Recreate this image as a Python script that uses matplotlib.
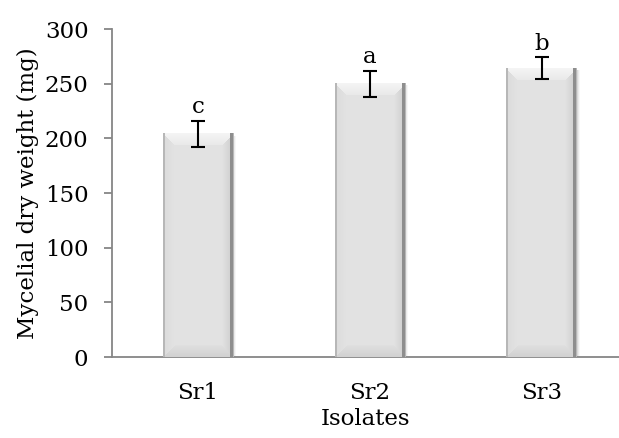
import numpy as np
import matplotlib
matplotlib.use("Agg")
import matplotlib.pyplot as plt

# Data
isolates = ["Sr1", "Sr2", "Sr3"]
dry_weight = [204, 250, 264]
errors = [12, 12, 10]
letters = ["c", "a", "b"]

plt.rcParams['font.family'] = ['DejaVu Serif']
FS = 16.5

W, H, DPI = 619, 438, 100
fig = plt.figure(figsize=(W / DPI, H / DPI), dpi=DPI)
ax = fig.add_axes([112 / W, (H - 357) / H, (W - 112) / W, (357 - 29) / H])

x = np.arange(len(isolates))
bar_w = 0.41
ax.set_xlim(-0.5, 2.45)
ax.set_ylim(0, 300)

bars = ax.bar(x, dry_weight, width=bar_w, color='#e3e3e3', zorder=2)


def bevel_image(wpx, hpx, b=12):
    """Build an RGB image of a bevelled bar face."""
    xx, yy = np.meshgrid(np.arange(wpx), np.arange(hpx))
    dl = xx.astype(float)
    dr = (wpx - 1 - xx).astype(float)
    dt = yy.astype(float)
    db = (hpx - 1 - yy).astype(float)
    img = np.full((hpx, wpx), 0.89)
    dmin = np.minimum(np.minimum(dl, dr), np.minimum(dt, db))
    t = np.clip(dmin / b, 0, 1)
    top = (dt == dmin) & (dt < b)
    left = (dl == dmin) & (dl < b) & ~top
    right = (dr == dmin) & (dr < b) & ~top
    bottom = (db == dmin) & (db < b) & ~left & ~right
    img[top] = 0.96 - 0.05 * t[top]
    img[left] = 0.86 + 0.03 * t[left]
    img[right] = 0.80 + 0.09 * t[right]
    img[bottom] = 0.82 + 0.06 * t[bottom]
    # dark side edge on the right, thin border on the left
    img[:, wpx - 4:wpx - 1] = 0.56
    img[:, wpx - 1] = 0.72
    img[:, 0:2] = np.minimum(img[:, 0:2], 0.72)
    return np.dstack([img, img, img])


fig.canvas.draw()
for rect in bars:
    x0, y0 = rect.get_x(), rect.get_y()
    x1, y1 = x0 + rect.get_width(), y0 + rect.get_height()
    p0 = ax.transData.transform((x0, y0))
    p1 = ax.transData.transform((x1, y1))
    wpx = int(round(p1[0] - p0[0]))
    hpx = int(round(p1[1] - p0[1]))
    # soft drop shadow
    for k, a in enumerate([0.08, 0.05, 0.03]):
        dx = (k + 1) * 1.0 / (p1[0] - p0[0]) * (x1 - x0)
        ax.add_patch(plt.Rectangle((x0 + dx, y0), x1 - x0, y1 - y0 - 1.5,
                                   color='black', alpha=a, lw=0, zorder=1))
    ax.imshow(bevel_image(wpx, hpx), extent=(x0, x1, y0, y1), aspect='auto',
              interpolation='nearest', zorder=3)

ax.set_xlim(-0.5, 2.45)
ax.set_ylim(0, 300)

ax.errorbar(x, dry_weight, yerr=errors, fmt='none', ecolor='black',
            elinewidth=1.5, capsize=5, capthick=1.5, zorder=4)

for xi, v, e, lab in zip(x, dry_weight, errors, letters):
    ax.annotate(lab, (xi, v + e), xytext=(0, 2), textcoords='offset points',
                ha='center', va='bottom', fontsize=FS)

for s in ['top', 'right']:
    ax.spines[s].set_visible(False)
for s in ['left', 'bottom']:
    ax.spines[s].set_color('#868686')
    ax.spines[s].set_linewidth(1.3)

ax.set_yticks(np.arange(0, 301, 50))
ax.tick_params(axis='y', direction='out', length=6, width=1.3, color='#868686',
               labelsize=FS, pad=11)
ax.set_xticks(x)
ax.set_xticklabels(isolates)
ax.tick_params(axis='x', length=0, labelsize=FS, pad=18)

ax.set_ylabel("Mycelial dry weight (mg)", fontsize=FS, labelpad=4)
ax.set_xlabel("Isolates", fontsize=FS, labelpad=3)

fig.savefig("out.png", dpi=DPI)
